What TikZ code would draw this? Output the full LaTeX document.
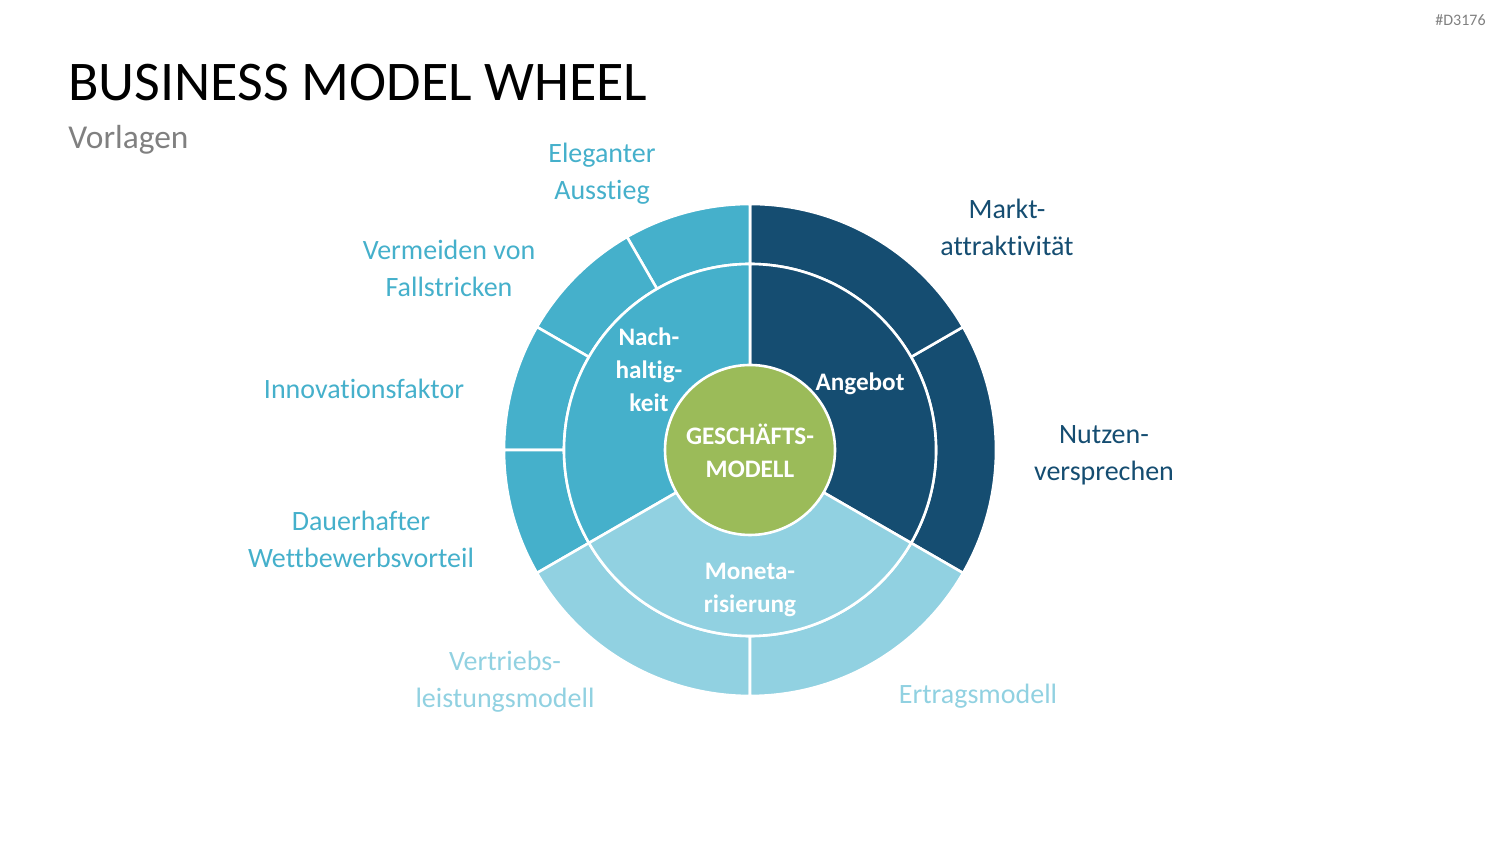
\documentclass[tikz,border=0pt]{standalone}
\usepackage{fontspec}
\setmainfont{Carlito}[Ligatures=NoCommon]
\usetikzlibrary{positioning}
\definecolor{wheeldark}{RGB}{21,77,113}
\definecolor{wheelmid}{RGB}{69,176,203}
\definecolor{wheellight}{RGB}{145,209,225}
\definecolor{wheelgreen}{RGB}{155,187,89}
\definecolor{subgray}{RGB}{128,128,128}
\tikzset{
  seg/.style={draw=white, line width=1.3pt},
  outerlabel/.style={align=center, font=\fontsize{14}{18.5}\selectfont},
  innerlabel/.style={align=center, text=white, font=\bfseries\fontsize{12.6}{16.5}\selectfont},
  darklabel/.style={outerlabel, text=wheeldark},
  midlabel/.style={outerlabel, text=wheelmid},
  lightlabel/.style={outerlabel, text=wheellight}
}

\begin{document}
\begin{tikzpicture}[x=0.5pt, y=0.5pt]
  \useasboundingbox (0,0) rectangle (1500,844);
  % heading
  \node[anchor=base west, inner sep=0pt, font=\fontsize{28}{34}\selectfont] (title) at (68,743) {BUSINESS MODEL WHEEL};
  \node[anchor=base west, inner sep=0pt, text=subgray, font=\fontsize{16.7}{20}\selectfont] (subtitle) at (68,695) {Vorlagen};
  \node[anchor=north east, inner sep=0pt, text=subgray, font=\fontsize{8}{9}\selectfont] (tag) at (1486,830) {\#D3176};

  \begin{scope}[shift={(750,394)}]
    % outer ring
    \foreach \a/\b/\c in {-30/30/wheeldark, 30/90/wheeldark, 90/120/wheelmid, 120/150/wheelmid,
                          150/180/wheelmid, 180/210/wheelmid, 210/270/wheellight, 270/330/wheellight}
      \filldraw[seg, fill=\c] (\a:186) -- (\a:246) arc[start angle=\a, end angle=\b, radius=246]
        -- (\b:186) arc[start angle=\b, end angle=\a, radius=186] -- cycle;
    % inner ring
    \foreach \a/\b/\c in {-30/90/wheeldark, 90/210/wheelmid, 210/330/wheellight}
      \filldraw[seg, fill=\c] (0,0) -- (\a:186) arc[start angle=\a, end angle=\b, radius=186] -- cycle;
    \filldraw[seg, fill=wheelgreen] (0,0) circle[radius=85];
  \end{scope}

  % inner texts
  \node[innerlabel] (core) at (750,393) {GESCHÄFTS-\\MODELL};
  \node[innerlabel] (offer) at (860,460) {Angebot};
  \node[innerlabel] (sustain) at (649,474) {Nach-\\haltig-\\keit};
  \node[innerlabel] (monet) at (750,254) {Moneta-\\risierung};

  % outer texts
  \node[darklabel] (market) at (1007,617) {Markt-\\attraktivität};
  \node[darklabel] (promise) at (1104,389) {Nutzen-\\versprechen};
  \node[lightlabel] (revenue) at (978,148) {Ertragsmodell};
  \node[lightlabel] (sales) at (505,162) {Vertriebs-\\leistungsmodell};
  \node[midlabel] (advantage) at (361,305) {Dauerhafter\\Wettbewerbsvorteil};
  \node[midlabel] (innov) at (364,455) {Innovationsfaktor};
  \node[midlabel] (pitfalls) at (449,576) {Vermeiden von\\Fallstricken};
  \node[midlabel] (exit) at (602,670) {Eleganter\\Ausstieg};
\end{tikzpicture}
\end{document}
